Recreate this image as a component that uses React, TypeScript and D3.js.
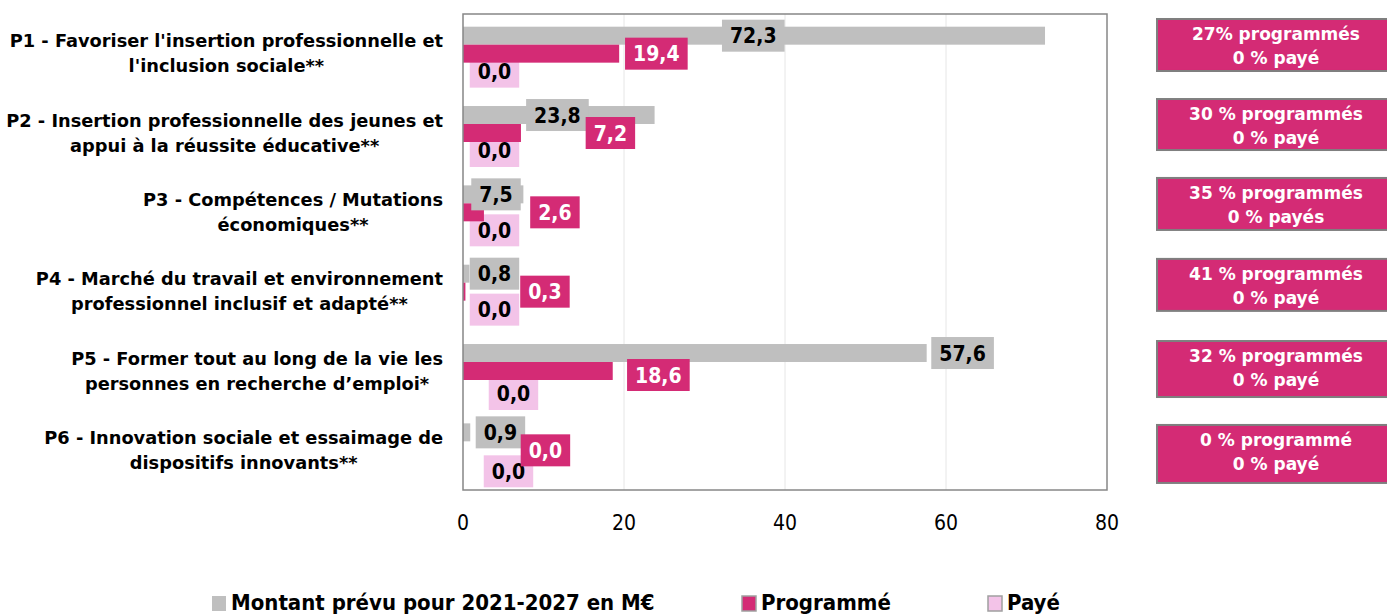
import React, { useEffect, useRef } from "react";
import * as d3 from "d3";

// ---------- data ----------
const categories = ["P1", "P2", "P3", "P4", "P5", "P6"];
const categoryLine1 = [
  "P1 - Favoriser l'insertion professionnelle et",
  "P2 - Insertion professionnelle des jeunes et",
  "P3 - Compétences / Mutations",
  "P4 - Marché du travail et environnement",
  "P5 - Former tout au long de la vie les",
  "P6 - Innovation sociale et essaimage de",
];
const categoryLine2 = [
  "l'inclusion sociale**",
  "appui à la réussite éducative**",
  "économiques**",
  "professionnel inclusif et adapté**",
  "personnes en recherche d’emploi*",
  "dispositifs innovants**",
];
const montant = [72.3, 23.8, 7.5, 0.8, 57.6, 0.9];
const programme = [19.4, 7.2, 2.6, 0.3, 18.6, 0.0];
const paye = [0.0, 0.0, 0.0, 0.0, 0.0, 0.0];
const boxLine1 = [
  "27% programmés",
  "30 % programmés",
  "35 % programmés",
  "41 % programmés",
  "32 % programmés",
  "0 % programmé",
];
const boxLine2 = ["0 % payé", "0 % payé", "0 % payés", "0 % payé", "0 % payé", "0 % payé"];
const seriesNames = ["Montant prévu pour 2021-2027 en M€", "Programmé", "Payé"];
const xTicks = [0, 20, 40, 60, 80];

// ---------- layout (label placement, in axis units / px offsets) ----------
const montantLabelAt = [36.06, 11.73, 4.1, 3.91, 62.06, 4.65];
const programmeLabelAt = [24.02, 18.31, 11.42, 10.18, 24.27, 10.24];
const payeLabelAt = [3.91, 3.91, 3.91, 3.91, 6.27, 5.65];
const programmeLabelDy = [0, 0, 0, 0, 4, 0];
const payeLabelDy = [0, 0, 0, 0, 5, 3];
const boxDy = [-7.7, -7, -7.4, -5.8, -3, 1.6];
const boxH = [52, 51, 52, 52, 56, 58];

const W = 1387;
const H = 616;
const COLORS = { montant: "#bfbfbf", programme: "#d42b75", paye: "#f3c3e8" };

export default function App() {
  const ref = useRef<SVGSVGElement>(null);

  useEffect(() => {
    const svg = d3.select(ref.current);
    svg.selectAll("*").remove();

    const plotL = 463, plotR = 1107, plotT = 14, plotB = 490;
    const x = d3.scaleLinear().domain([0, 80]).range([plotL, plotR]);
    const y = d3
      .scaleBand<string>()
      .domain(categories)
      .range([plotT, plotB])
      .paddingInner(0.32)
      .paddingOuter(0.16);
    const sub = d3
      .scaleBand<string>()
      .domain(["montant", "programme", "paye"])
      .range([0, y.bandwidth()]);

    const fmt = (v: number) => d3.format(".1f")(v).replace(".", ",");

    // gridlines
    svg
      .append("g")
      .selectAll("line")
      .data(xTicks.filter((t) => t > 0 && t < 80))
      .join("line")
      .attr("x1", (d) => x(d))
      .attr("x2", (d) => x(d))
      .attr("y1", plotT)
      .attr("y2", plotB)
      .attr("stroke", "#e6e6e6")
      .attr("stroke-width", 1);

    const rows = categories.map((c, i) => ({
      c,
      i,
      montant: montant[i],
      programme: programme[i],
      paye: paye[i],
    }));

    const drawBars = (key: "montant" | "programme" | "paye") => {
      svg
        .append("g")
        .selectAll("rect")
        .data(rows)
        .join("rect")
        .attr("x", x(0))
        .attr("y", (d) => (y(d.c) as number) + (sub(key) as number))
        .attr("width", (d) => Math.max(0, x(d[key]) - x(0)))
        .attr("height", sub.bandwidth())
        .attr("fill", COLORS[key]);
    };

    const labelFont = "'DejaVu Sans Condensed', 'DejaVu Sans', sans-serif";
    const drawLabels = (
      key: "montant" | "programme" | "paye",
      at: number[],
      dy: number[] | null,
      textColor: string
    ) => {
      const g = svg.append("g");
      rows.forEach((d) => {
        const cy =
          (y(d.c) as number) + (sub(key) as number) + sub.bandwidth() / 2 + (dy ? dy[d.i] : 0);
        const cx = x(at[d.i]);
        const t = g
          .append("text")
          .attr("x", cx)
          .attr("y", cy + 7.5)
          .attr("text-anchor", "middle")
          .attr("font-family", labelFont)
          .attr("font-stretch", "condensed")
          .attr("font-weight", "bold")
          .attr("font-size", 21)
          .attr("fill", textColor)
          .text(fmt(d[key]));
        const tw = (t.node() as SVGTextElement).getComputedTextLength();
        const bw = tw + 16;
        g.insert("rect", () => t.node() as any)
          .attr("x", cx - bw / 2)
          .attr("y", cy - 16)
          .attr("width", bw)
          .attr("height", 32)
          .attr("fill", COLORS[key]);
      });
    };

    drawBars("montant");
    drawLabels("paye", payeLabelAt, payeLabelDy, "#000");
    drawBars("programme");
    drawBars("paye");
    drawLabels("montant", montantLabelAt, null, "#000");
    drawLabels("programme", programmeLabelAt, programmeLabelDy, "#fff");

    // plot border
    svg
      .append("rect")
      .attr("x", plotL)
      .attr("y", plotT)
      .attr("width", plotR - plotL)
      .attr("height", plotB - plotT)
      .attr("fill", "none")
      .attr("stroke", "#878787")
      .attr("stroke-width", 1.5);

    // x tick labels
    svg
      .append("g")
      .selectAll("text")
      .data(xTicks)
      .join("text")
      .attr("x", (d) => x(d))
      .attr("y", 530)
      .attr("text-anchor", "middle")
      .attr("font-family", labelFont)
      .attr("font-stretch", "condensed")
      .attr("font-size", 21)
      .attr("fill", "#000")
      .text((d) => String(d));

    // category labels (block right-aligned, lines centered)
    const catFont = "'DejaVu Sans', sans-serif";
    const cg = svg.append("g");
    rows.forEach((d) => {
      const cy = (y(d.c) as number) + y.bandwidth() / 2;
      const t1 = cg
        .append("text")
        .attr("x", 443)
        .attr("y", cy - 6.5)
        .attr("text-anchor", "end")
        .attr("font-family", catFont)
        .attr("font-weight", "bold")
        .attr("font-size", 17.8)
        .attr("fill", "#000")
        .text(categoryLine1[d.i]);
      const w1 = (t1.node() as SVGTextElement).getComputedTextLength();
      cg.append("text")
        .attr("x", 443 - w1 / 2)
        .attr("y", cy + 18.5)
        .attr("text-anchor", "middle")
        .attr("font-family", catFont)
        .attr("font-weight", "bold")
        .attr("font-size", 17.8)
        .attr("fill", "#000")
        .text(categoryLine2[d.i]);
    });

    // right-side summary boxes
    const bg = svg.append("g");
    rows.forEach((d) => {
      const top = (y(d.c) as number) + boxDy[d.i];
      bg.append("rect")
        .attr("x", 1157)
        .attr("y", top)
        .attr("width", 240)
        .attr("height", boxH[d.i])
        .attr("fill", COLORS.programme)
        .attr("stroke", "#7f7f7f")
        .attr("stroke-width", 2);
      [boxLine1[d.i], boxLine2[d.i]].forEach((s, k) => {
        bg.append("text")
          .attr("x", 1276)
          .attr("y", top + 21 + k * 24)
          .attr("text-anchor", "middle")
          .attr("font-family", catFont)
          .attr("font-weight", "bold")
          .attr("font-size", 17)
          .attr("fill", "#fff")
          .text(s);
      });
    });

    // legend
    const legendX = [212, 742, 988];
    const legendColors = [COLORS.montant, COLORS.programme, COLORS.paye];
    const lg = svg.append("g");
    seriesNames.forEach((name, k) => {
      lg.append("rect")
        .attr("x", legendX[k])
        .attr("y", 596)
        .attr("width", 14)
        .attr("height", 15)
        .attr("fill", legendColors[k])
        .attr("stroke", k === 0 ? "none" : "#a0a0a0")
        .attr("stroke-width", 1.5);
      lg.append("text")
        .attr("x", legendX[k] + 19)
        .attr("y", 610)
        .attr("font-family", labelFont)
        .attr("font-stretch", "condensed")
        .attr("font-weight", "bold")
        .attr("font-size", 22)
        .attr("fill", "#000")
        .text(name);
    });
  }, []);

  return (
    <svg
      ref={ref}
      width={W}
      height={H}
      style={{ position: "absolute", left: 0, top: 0, background: "#fff" }}
    />
  );
}
